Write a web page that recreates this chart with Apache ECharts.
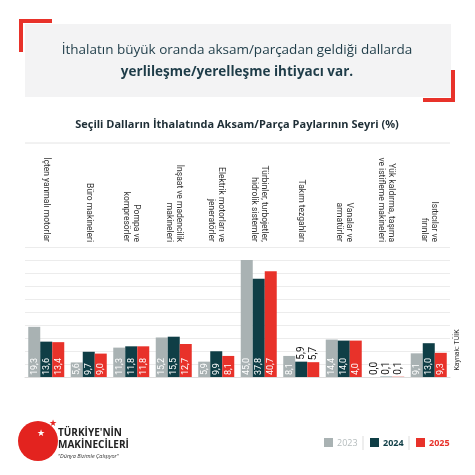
<!DOCTYPE html>
<html><head><meta charset="utf-8">
<script src="https://cdn.jsdelivr.net/npm/echarts@6/dist/echarts.min.js"></script>
<style>html,body{margin:0;padding:0;background:#fff}#c{width:475px;height:475px}</style>
</head><body><div id="c"></div>
<script>
const categories = ['İçten yanmalı motorlar','Büro makineleri','Pompa ve\nkompresörler','İnşaat ve madencilik\nmakineleri','Elektrik motorları ve\njeneratörler','Türbinler, turbojetler,\nhidrolik sistemler','Takım tezgahları','Vanalar ve\narmatürler','Yük kaldırma, taşıma\nve istifleme makineleri','Isıtıcılar ve\nfırınlar'];
const v2023 = [19.3,5.6,11.3,15.2,5.9,45.0,8.1,14.4,0.0,9.1];
const v2024 = [13.6,9.7,11.8,15.5,9.9,37.8,5.9,14.0,0.1,13.0];
const v2025 = [13.4,9.0,11.8,12.7,8.1,40.7,5.7,14.0,0.1,9.3];
const labels2025 = ['13,4','9,0','11,8','12,7','8,1','40,7','5,7','4,0','0,1','9,3'];
const darkLabelCats = {6:[1,2],8:[0,1,2]};
const colors = ['#a9b2b3','#0f3e46','#e8322a'];
const fmt = v => v.toFixed(1).replace('.',',');
function mk(vals, si, lbls){
  return vals.map((v,i)=>{
    const dark = darkLabelCats[i] && darkLabelCats[i].includes(si);
    const lab = {formatter: lbls?lbls[i]:fmt(v)};
    if (dark) Object.assign(lab,{color:'#1a1a1a', position:'top', fontSize:10, distance:2});
    return {value:v, label:lab};
  });
}
const ch = echarts.init(document.getElementById('c'));
const ser = (name, vals, si, lbls) => ({
  name, type:'bar', data: mk(vals, si, lbls), barWidth:12, barGap:'0%',
  itemStyle:{color:colors[si]},
  label:{show:true, position:'insideBottom', rotate:90, align:'left', verticalAlign:'middle', distance:2, fontFamily:'Roboto', fontSize:9, color:'#fff'}
});
ch.setOption({
  animation:false,
  grid:{left:25, right:25, top:247, bottom:98},
  xAxis:[{type:'category', data:categories, axisLine:{show:true, lineStyle:{color:'#ddd'}}, axisTick:{show:false}, axisLabel:{show:false}},
         {type:'category', data:categories, position:'top', axisLine:{show:false}, axisTick:{show:false},
          axisLabel:{rotate:90, interval:0, fontSize:8.5, color:'#333', fontFamily:'Roboto', margin:5, lineHeight:10}}],
  yAxis:{type:'value', min:0, max:50, interval:5, axisLabel:{show:false}, splitLine:{lineStyle:{color:'#ececec'}}},
  series:[ser('2023',v2023,0), ser('2024',v2024,1), ser('2025',v2025,2,labels2025)],
  legend:{show:false},
  graphic:[
    {type:'rect', shape:{x:25,y:24,width:426,height:73}, style:{fill:'#f3f3f4'}},
    {type:'polyline', shape:{points:[[21,52],[21,21],[52,21]]}, style:{stroke:'#e8322a', lineWidth:4, fill:null}},
    {type:'polyline', shape:{points:[[423,100],[453,100],[453,70]]}, style:{stroke:'#e8322a', lineWidth:4, fill:null}},
    {type:'text', x:237, y:50, style:{text:'İthalatın büyük oranda aksam/parçadan geldiği dallarda', fill:'#1e3c48', font:'13.5px "Open Sans"', align:'center', verticalAlign:'middle'}},
    {type:'text', x:237, y:72, style:{text:'yerlileşme/yerelleşme ihtiyacı var.', fill:'#1e3c48', font:'bold 13.5px "Open Sans"', align:'center', verticalAlign:'middle'}},
    {type:'text', x:237, y:125, style:{text:'Seçili Dalların İthalatında Aksam/Parça Paylarının Seyri (%)', fill:'#1e2e36', font:'bold 11px "Open Sans"', align:'center', verticalAlign:'middle'}},
    {type:'line', shape:{x1:25,y1:143,x2:450,y2:143}, style:{stroke:'#e4e4e4', lineWidth:1}},
    {type:'text', x:457, y:350, rotation:Math.PI/2, style:{text:'Kaynak: TÜİK', fill:'#333', font:'7px Roboto', align:'center', verticalAlign:'middle'}},
    {type:'circle', shape:{cx:38,cy:441,r:20}, style:{fill:'#e3231f'}},
    {type:'text', x:41, y:434, style:{text:'★', fill:'#fff', font:'9px "DejaVu Sans"', align:'center', verticalAlign:'middle'}},
    {type:'text', x:53, y:424, style:{text:'★', fill:'#e3231f', font:'9px "DejaVu Sans"', align:'center', verticalAlign:'middle'}},
    {type:'text', x:58, y:433, style:{text:'TÜRKİYE\'NİN', fill:'#222', font:'bold 10px "Open Sans"', verticalAlign:'middle'}},
    {type:'text', x:58, y:445, style:{text:'MAKİNECİLERİ', fill:'#222', font:'bold 10px "Open Sans"', verticalAlign:'middle'}},
    {type:'text', x:58, y:456, style:{text:'"Dünya Bizimle Çalışıyor"', fill:'#333', font:'italic 5.5px "Open Sans"', verticalAlign:'middle'}},
    {type:'rect', shape:{x:324,y:438,width:9,height:9}, style:{fill:colors[0]}},
    {type:'text', x:337, y:443, style:{text:'2023', fill:'#b5bcbd', font:'9px "Open Sans"', verticalAlign:'middle'}},
    {type:'line', shape:{x1:363,y1:436,x2:363,y2:450}, style:{stroke:'#ddd'}},
    {type:'rect', shape:{x:370,y:438,width:9,height:9}, style:{fill:colors[1]}},
    {type:'text', x:383, y:443, style:{text:'2024', fill:colors[1], font:'bold 9px "Open Sans"', verticalAlign:'middle'}},
    {type:'line', shape:{x1:409,y1:436,x2:409,y2:450}, style:{stroke:'#ddd'}},
    {type:'rect', shape:{x:416,y:438,width:9,height:9}, style:{fill:colors[2]}},
    {type:'text', x:429, y:443, style:{text:'2025', fill:colors[2], font:'bold 9px "Open Sans"', verticalAlign:'middle'}}
  ]
});
</script></body></html>
